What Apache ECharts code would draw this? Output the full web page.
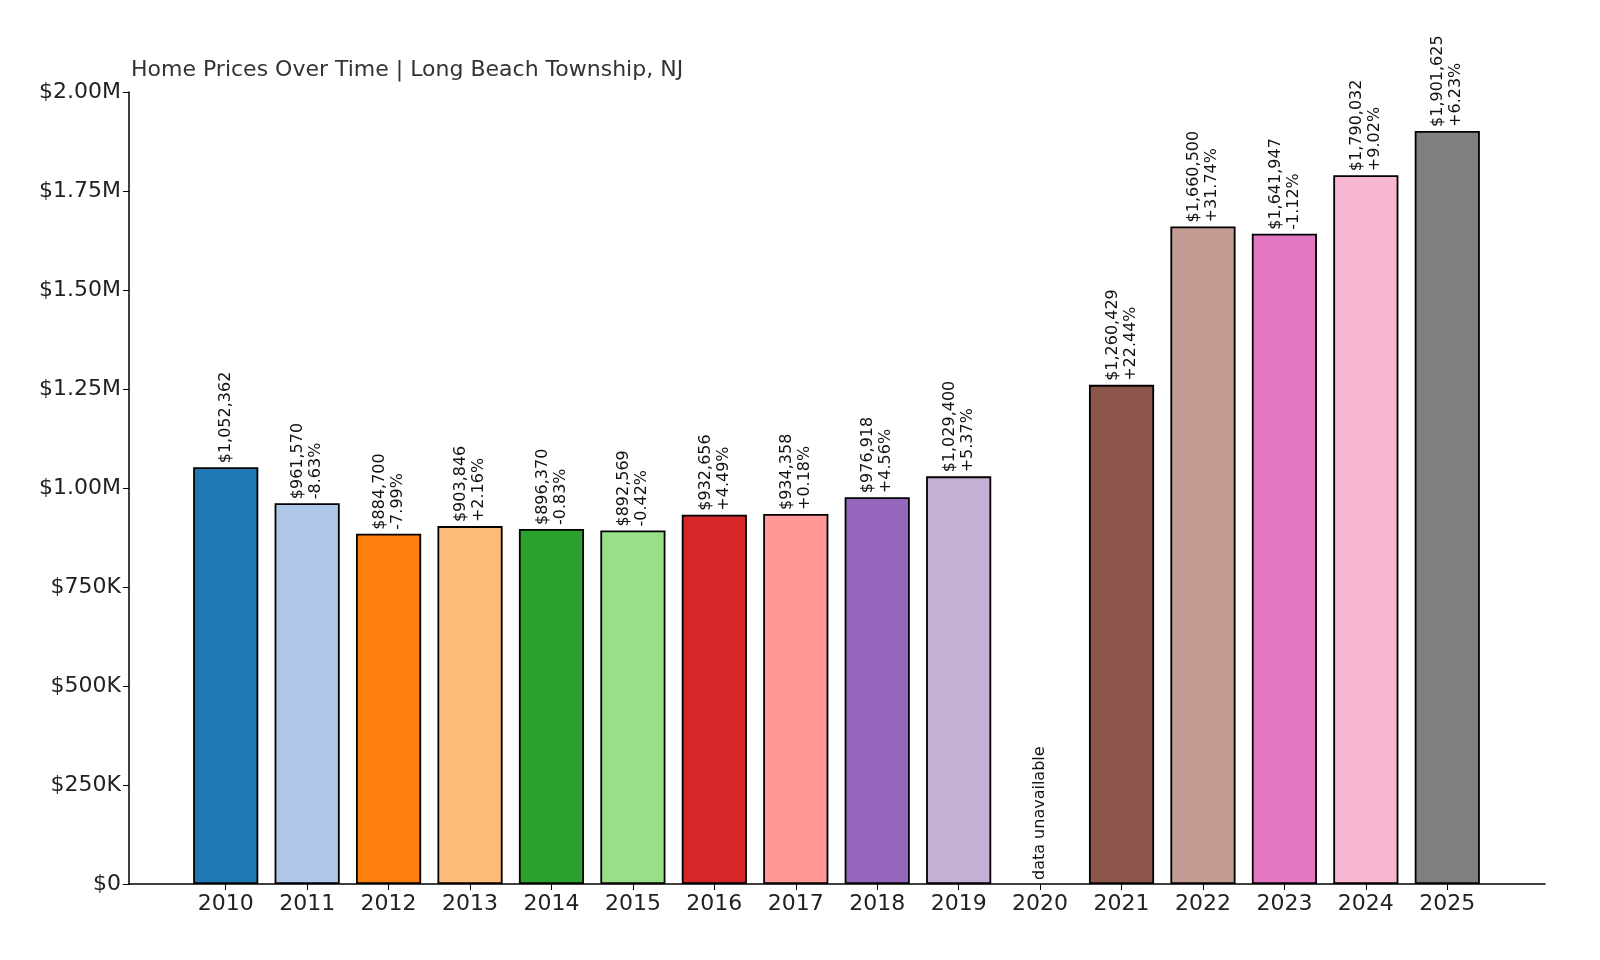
<!DOCTYPE html>
<html><head><meta charset="utf-8">
<script src="https://cdn.jsdelivr.net/npm/echarts@6/dist/echarts.min.js"></script>
<style>html,body{margin:0;background:#fff}#c{width:1600px;height:960px}</style>
</head><body><div id="c"></div>
<script>
const years = ["2010","2011","2012","2013","2014","2015","2016","2017","2018","2019","2020","2021","2022","2023","2024","2025"];
const prices = [1052362, 961570, 884700, 903846, 896370, 892569, 932656, 934358, 976918, 1029400, null, 1260429, 1660500, 1641947, 1790032, 1901625];
const changes = ["", "-8.63%", "-7.99%", "+2.16%", "-0.83%", "-0.42%", "+4.49%", "+0.18%", "+4.56%", "+5.37%", "", "+22.44%", "+31.74%", "-1.12%", "+9.02%", "+6.23%"];
const colors = ["#1f77b4","#aec7e8","#ff7f0e","#ffbb78","#2ca02c","#98df8a","#d62728","#ff9896","#9467bd","#c5b0d5","#8c564b","#8c564b","#c49c94","#e377c2","#f7b6d2","#7f7f7f"];

const chart = echarts.init(document.getElementById("c"));
const fmtY = v => v === 0 ? "$0" : v >= 1e6 ? "$" + (v / 1e6).toFixed(2) + "M" : "$" + (v / 1e3) + "K";
const font = "DejaVu Sans";

const data = prices.map((p, i) => {
  if (p === null) {
    return { value: 0, itemStyle: { borderWidth: 0 }, label: { formatter: "data unavailable" } };
  }
  return { value: p, itemStyle: { color: colors[i] } };
});

chart.setOption({
  animation: false,
  textStyle: { fontFamily: font },
  title: { text: "Home Prices Over Time | Long Beach Township, NJ", left: 126, top: 54,
    textStyle: { fontSize: 22, fontWeight: "normal", color: "#333", fontFamily: font } },
  grid: [
    { left: 129, right: 55, top: 92, bottom: 76 },
    { left: 185, right: 112, top: 92, bottom: 76 }
  ],
  xAxis: [
    { type: "value", gridIndex: 0, min: 0, max: 1, axisLine: { show: true, onZero: false, lineStyle: { color: "#000", width: 1.5 } },
      axisTick: { show: false }, axisLabel: { show: false }, splitLine: { show: false } },
    { type: "category", gridIndex: 1, data: years, axisLine: { show: false },
      axisTick: { show: true, alignWithLabel: true, length: 6, lineStyle: { color: "#000" } },
      axisLabel: { fontSize: 22, color: "#222", margin: 9 } }
  ],
  yAxis: [
    { type: "value", gridIndex: 0, min: 0, max: 2000000, interval: 250000,
      axisLine: { show: true, lineStyle: { color: "#000", width: 1.5 } },
      axisTick: { show: true, length: 6, lineStyle: { color: "#000" } },
      axisLabel: { fontSize: 22, color: "#222", formatter: fmtY, margin: 8 },
      splitLine: { show: false } },
    { type: "value", gridIndex: 1, min: 0, max: 2000000, show: false }
  ],
  series: [{
    type: "bar", xAxisIndex: 1, yAxisIndex: 1, data: data, barCategoryGap: "20%",
    itemStyle: { borderColor: "#000", borderWidth: 1.8 },
    label: {
      show: true, position: "top", rotate: 90, align: "left", verticalAlign: "middle",
      distance: 4, fontSize: 16, color: "#111", lineHeight: 18,
      formatter: p => {
        const i = p.dataIndex;
        const s = "$" + prices[i].toLocaleString("en-US");
        return changes[i] ? s + "\n" + changes[i] : s;
      }
    }
  }]
});
</script></body></html>
